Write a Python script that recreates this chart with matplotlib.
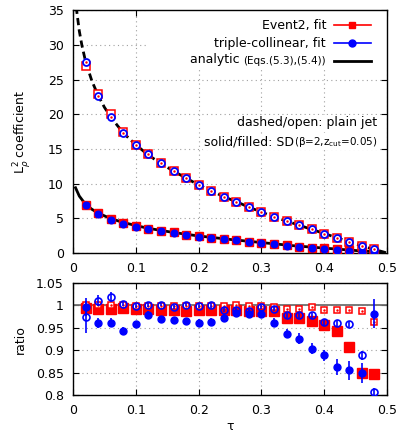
import numpy as np
import matplotlib
matplotlib.use("Agg")
import matplotlib.pyplot as plt
from matplotlib.patches import Rectangle

tau=[0.02,0.04,0.06,0.08,0.10,0.12,0.14,0.16,0.18,0.20,0.22,0.24,
     0.26,0.28,0.30,0.32,0.34,0.36,0.38,0.40,0.42,0.44,0.46,0.48]

# top panel: fitted coefficients
ev2_plain=[26.9,22.9,20.0,17.4,15.6,14.2,12.9,11.8,10.8,9.8,9.0,8.1,
           7.4,6.6,5.95,5.25,4.6,4.0,3.4,2.8,2.2,1.6,1.05,0.5]
tc_plain=[27.6,22.6,19.6,17.3,15.6,14.2,12.9,11.8,10.8,9.8,9.0,8.1,
          7.4,6.6,5.95,5.25,4.6,4.0,3.4,2.8,2.2,1.6,1.05,0.5]
ev2_sd=[6.9,5.7,4.85,4.3,3.85,3.5,3.2,2.95,2.65,2.4,2.15,2.0,
        1.85,1.65,1.5,1.3,1.1,0.92,0.78,0.65,0.5,0.38,0.25,0.12]
tc_sd=[6.9,5.6,4.75,4.2,3.8,3.45,3.15,2.9,2.6,2.35,2.1,1.95,
       1.8,1.6,1.45,1.25,1.05,0.88,0.74,0.62,0.45,0.33,0.2,0.08]

# analytic curves
an_plain_x=[0.005,0.01,0.014,0.02,0.03,0.04,0.05,0.06,0.08,0.10,0.12,0.14,0.16,0.18,
            0.20,0.22,0.24,0.26,0.28,0.30,0.32,0.34,0.36,0.38,0.40,0.42,0.44,0.46,0.48,0.50]
an_plain_y=[35.5,32.0,30.0,27.6,24.8,22.7,21.0,19.6,17.3,15.6,14.1,12.9,11.8,10.8,
            9.8,9.0,8.1,7.4,6.6,5.9,5.2,4.6,4.0,3.4,2.8,2.2,1.6,1.0,0.5,0.0]
an_sd_x=[0.004,0.01,0.02,0.03,0.04,0.06,0.08,0.10,0.12,0.14,0.16,0.18,0.20,
         0.25,0.30,0.35,0.40,0.45,0.49]
an_sd_y=[9.4,8.2,7.0,6.3,5.75,4.95,4.4,3.95,3.55,3.25,2.95,2.7,2.45,
         1.95,1.5,1.05,0.7,0.35,0.1]

# bottom panel: ratios
r_ev2_plain=[1.0,1.0,1.0,1.0,0.999,0.999,0.999,0.998,0.998,0.998,0.998,0.998,
             1.0,0.999,0.998,0.996,0.993,0.993,0.996,0.991,0.989,0.989,0.987,0.964]
r_ev2_sd=[0.995,0.993,0.993,0.995,0.993,0.993,0.989,0.989,0.987,0.989,0.991,0.991,
          0.991,0.987,0.987,0.987,0.971,0.972,0.965,0.956,0.943,0.908,0.849,0.848]
r_tc_plain=[0.974,1.011,1.019,1.004,0.999,1.001,1.002,0.997,1.002,0.999,1.0,0.991,
            0.991,0.987,0.997,0.993,0.978,0.978,0.978,0.963,0.961,0.958,0.889,0.807]
e_tc_plain=[0.035,0.012,0.012,0.006,0.005,0.005,0.004,0.005,0.004,0.004,0.005,0.005,
            0.005,0.005,0.005,0.005,0.005,0.006,0.006,0.006,0.006,0.007,0.01,0.01]
r_tc_sd=[0.996,0.961,0.961,0.943,0.959,0.979,0.969,0.967,0.965,0.961,0.964,0.972,
         0.984,0.98,0.98,0.961,0.937,0.926,0.904,0.889,0.863,0.855,0.85,0.982]
e_tc_sd=[0.02,0.012,0.01,0.008,0.007,0.008,0.008,0.008,0.008,0.008,0.008,0.008,
         0.009,0.009,0.009,0.01,0.01,0.012,0.012,0.012,0.018,0.022,0.022,0.032]

RED="#ff0000"
BLUE="#0000ff"
FS=9
SMALL=7.5

def style_axes(ax):
    ax.tick_params(direction="in",top=True,right=True,length=4,width=0.8,
                   labelsize=FS,pad=6.5)
    ax.grid(True,linestyle=(0,(1,3)),color="#a0a0a0",linewidth=0.8)
    ax.set_axisbelow(True)
    for s in ax.spines.values():
        s.set_linewidth(1.0)

fig=plt.figure(figsize=(3.99,4.43),dpi=100)
ax1=fig.add_axes([0.183,0.429,0.787,0.548])
ax2=fig.add_axes([0.183,0.108,0.787,0.253])

# top panel
ax1.plot(an_plain_x,an_plain_y,color="black",lw=2.0,linestyle=(0,(2.6,1.5)),zorder=2)
ax1.plot(an_sd_x,an_sd_y,color="black",lw=2.0,zorder=2)
ax1.plot(tau,ev2_sd,"s",color=RED,ms=6,zorder=3)
ax1.plot(tau,tc_sd,"o",color=BLUE,ms=4.8,zorder=4)
ax1.plot(tau,ev2_plain,"s",mfc="white",mec=RED,mew=1.1,ms=6,zorder=3)
ax1.plot(tau,tc_plain,"o",mfc="white",mec=BLUE,mew=1.3,ms=5,zorder=4)
ax1.plot(tau,tc_plain,".",color=RED,ms=1.5,zorder=5)
ax1.set_xlim(0,0.5)
ax1.set_ylim(0,35)
ax1.set_xticks([0,0.1,0.2,0.3,0.4,0.5])
ax1.set_xticklabels(["0","0.1","0.2","0.3","0.4","0.5"])
ax1.set_yticks(range(0,36,5))
style_axes(ax1)
ax1.set_ylabel(r"L$_\rho^2$ coefficient",fontsize=FS)
ax1.yaxis.set_label_coords(-0.127,0.5)

# key box
ax1.add_patch(Rectangle((0.239,0.757),0.76,0.242,transform=ax1.transAxes,
                        facecolor="white",edgecolor="none",zorder=1.5))
xt=0.806
xl=[0.831,0.949]
rows=[0.938,0.863,0.790]
ax1.text(xt,rows[0],"Event2, fit",transform=ax1.transAxes,ha="right",va="center",fontsize=FS,zorder=6)
ax1.plot(xl,[rows[0]]*2,color=RED,lw=1.2,transform=ax1.transAxes,clip_on=False,zorder=6)
ax1.plot([np.mean(xl)],[rows[0]],"s",color=RED,ms=5,transform=ax1.transAxes,zorder=6)
ax1.text(xt,rows[1],"triple-collinear, fit",transform=ax1.transAxes,ha="right",va="center",fontsize=FS,zorder=6)
ax1.plot(xl,[rows[1]]*2,color=BLUE,lw=1.2,transform=ax1.transAxes,clip_on=False,zorder=6)
ax1.plot([np.mean(xl)],[rows[1]],"o",color=BLUE,ms=5,transform=ax1.transAxes,zorder=6)
t_small=ax1.text(xt,rows[2],"(Eqs.(5.3),(5.4))",transform=ax1.transAxes,ha="right",
                 va="center",fontsize=SMALL,zorder=6)
ax1.annotate("analytic ",xy=(0,0),xycoords=t_small,ha="right",va="bottom",fontsize=FS,zorder=6)
ax1.plot(xl,[rows[2]]*2,color="black",lw=2.0,transform=ax1.transAxes,clip_on=False,zorder=6)

bb=dict(facecolor="white",edgecolor="none",pad=1.0)
ax1.text(0.970,0.536,"dashed/open: plain jet",transform=ax1.transAxes,ha="right",
         va="center",fontsize=FS,bbox=bb,zorder=6)
t_sd=ax1.text(0.970,0.458,r"(β=2,z$_{\rm cut}$=0.05)",transform=ax1.transAxes,ha="right",
              va="center",fontsize=SMALL,bbox=bb,zorder=6)
ax1.annotate("solid/filled: SD",xy=(0,0),xycoords=t_sd,ha="right",va="bottom",
             fontsize=FS,bbox=bb,zorder=6)

# bottom panel
ax2.axhline(1.0,color="#707070",lw=1.3,zorder=1)
ax2.plot(tau,r_ev2_sd,"s",color=RED,ms=6.5,zorder=3)
ax2.plot(tau,r_ev2_plain,"s",mfc="white",mec=RED,mew=1.1,ms=5,zorder=3)
ax2.plot(tau,r_ev2_plain,".",color=RED,ms=1.5,zorder=3)
ax2.errorbar(tau,r_tc_sd,yerr=e_tc_sd,fmt="o",color=BLUE,ms=5,elinewidth=1.2,capsize=0,zorder=4)
ax2.errorbar(tau,r_tc_plain,yerr=e_tc_plain,fmt="o",mfc="none",mec=BLUE,color=BLUE,
             mew=1.2,ms=5,elinewidth=1.2,capsize=0,zorder=4)
ax2.set_xlim(0,0.5)
ax2.set_ylim(0.8,1.05)
ax2.set_xticks([0,0.1,0.2,0.3,0.4,0.5])
ax2.set_xticklabels(["0","0.1","0.2","0.3","0.4","0.5"])
ax2.set_yticks([0.8,0.85,0.9,0.95,1.0,1.05])
ax2.set_yticklabels(["0.8","0.85","0.9","0.95","1","1.05"])
style_axes(ax2)
ax2.set_ylabel("ratio",fontsize=FS)
ax2.yaxis.set_label_coords(-0.146,0.5)
ax2.set_xlabel("τ",fontsize=FS,labelpad=2)

fig.savefig("out.png",dpi=100)
